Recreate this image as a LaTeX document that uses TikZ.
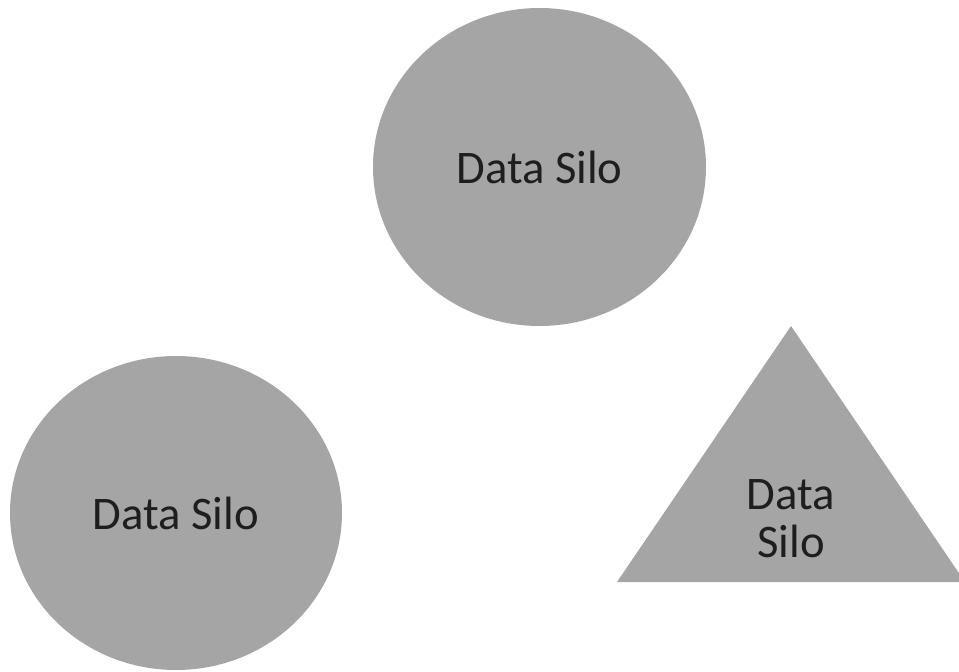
\documentclass[tikz,border=0pt]{standalone}
\usepackage{fontspec}
\setmainfont{Carlito}
\usetikzlibrary{shapes.geometric}
\definecolor{silogray}{RGB}{165,165,165}
\definecolor{silotext}{RGB}{30,30,30}
\tikzstyle{silo} = [ellipse, fill=silogray, text=silotext, inner sep=0pt, font=\fontsize{46.7}{48}\selectfont]
\tikzstyle{silolabel} = [text=silotext, align=center, inner sep=0pt, font=\fontsize{46.7}{48}\selectfont]

\begin{document}
\begin{tikzpicture}[x=1pt,y=-1pt]
	\useasboundingbox (0,0) rectangle (959,672);
	\node [silo, minimum width=333pt, minimum height=318pt] (top) at (539.5,167) {Data Silo};
	\node [silo, minimum width=332pt, minimum height=314pt] (left) at (176,513) {Data Silo};
	\fill [silogray] (617,582) -- (791,326) -- (965,582) -- cycle;
	\node [silolabel] (right) at (791,519) {Data\\Silo};
\end{tikzpicture}
\end{document}
